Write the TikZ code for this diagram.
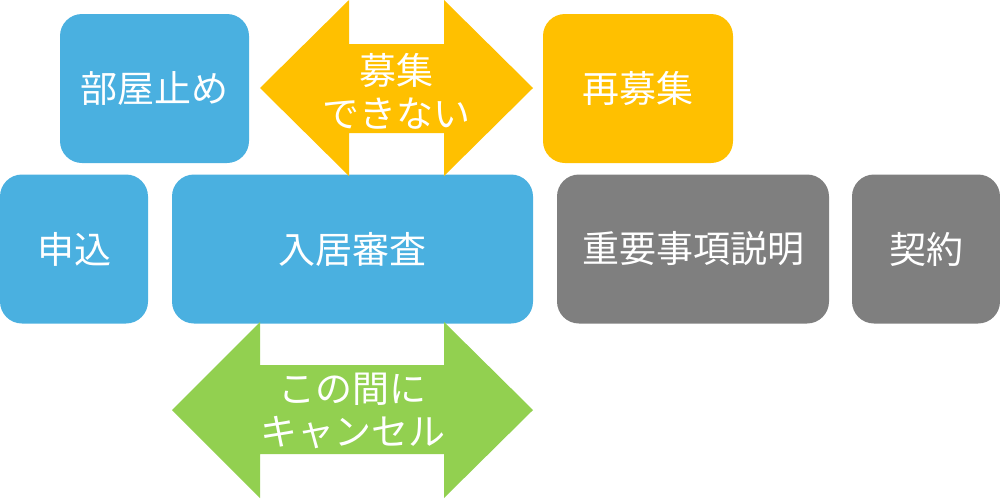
\documentclass[tikz,border=0pt]{standalone}
\usepackage{fontspec}
\setmainfont{Noto Sans CJK JP}
\definecolor{cblue}{HTML}{4AB0E0}
\definecolor{cyellow}{HTML}{FFC000}
\definecolor{cgray}{HTML}{7F7F7F}
\definecolor{cgreen}{HTML}{92D050}
\begin{document}
\begin{tikzpicture}[x=1pt,y=-1pt,
  box/.style={rounded corners=22pt, inner sep=0pt, text=white, font=\fontsize{37}{44}\selectfont},
  lbl/.style={inner sep=0pt, text=white, align=center, font=\fontsize{37}{43}\selectfont}]
\useasboundingbox (0,0) rectangle (1000,499);
\node[box, fill=cblue, minimum width=189pt, minimum height=149pt] (heya) at (154.5,88.5) {部屋止め};
\node[box, fill=cyellow, minimum width=190pt, minimum height=149pt] (sai) at (638,88.5) {再募集};
\node[box, fill=cblue, minimum width=148pt, minimum height=149pt] (moushi) at (74,249) {申込};
\node[box, fill=cblue, minimum width=361pt, minimum height=149pt] (shinsa) at (352.5,249) {入居審査};
\node[box, fill=cgray, minimum width=272pt, minimum height=149pt] (juyo) at (693,249) {重要事項説明};
\node[box, fill=cgray, minimum width=148pt, minimum height=149pt] (keiyaku) at (926,249) {契約};
\fill[cyellow] (260,88) -- (349,0) -- (349,44) -- (444,44) -- (444,0) -- (533,88) -- (444,176) -- (444,133) -- (349,133) -- (349,176) -- cycle;
\node[lbl] (boshu) at (396.5,91) {募集\\できない};
\fill[cgreen] (172,410) -- (260,322) -- (260,365) -- (444,365) -- (444,322) -- (533,410) -- (444,498) -- (444,454) -- (260,454) -- (260,498) -- cycle;
\node[lbl] (cancel) at (352.5,411) {この間に\\キャンセル};
\end{tikzpicture}
\end{document}
